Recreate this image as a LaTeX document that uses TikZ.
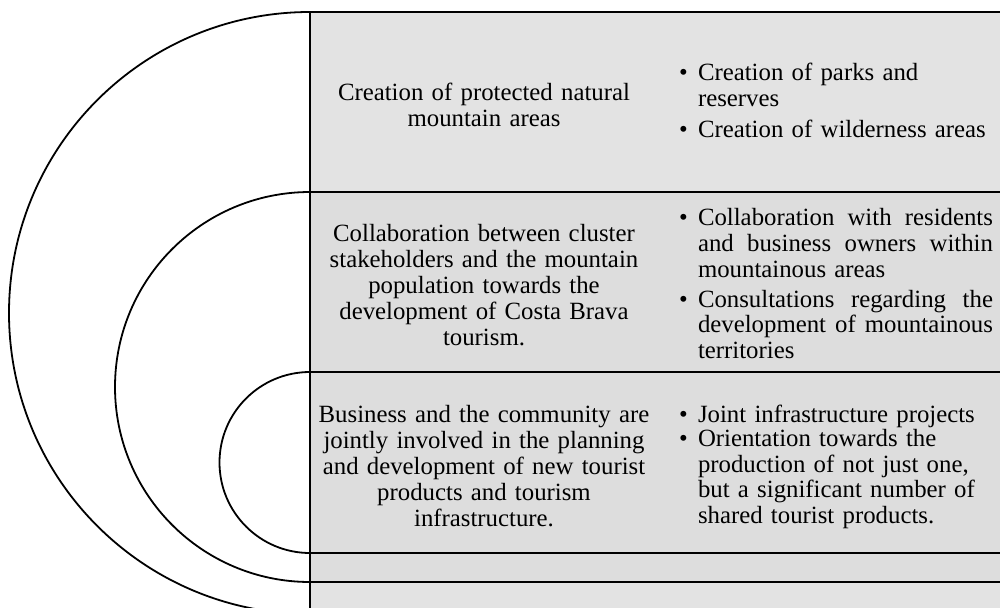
\documentclass[tikz,border=0pt]{standalone}
\usepackage{fontspec}
\setmainfont{Liberation Serif}
\definecolor{bandOuter}{HTML}{E3E3E3}
\definecolor{bandInner}{HTML}{DDDDDD}
\newcommand{\cellfont}{\fontsize{12.4pt}{12.9pt}\selectfont}
\newcommand{\bullitem}[1]{\noindent\makebox[9.5pt][l]{\textbullet}\parbox[t]{147.5pt}{\cellfont\raggedright\leavevmode\strut#1\strut}}
\newcommand{\fullline}[1]{\leavevmode\hbox to 147.5pt{\spaceskip=0.25em plus 1em minus 0.05em\relax #1}}

\begin{document}
\begin{tikzpicture}[x=0.5pt, y=0.5pt,
  bandline/.style={line width=1pt},
  ringline/.style={line width=0.9pt},
  celltext/.style={inner sep=0pt, font=\cellfont},
  lefttext/.style={celltext, text width=176pt, align=center},
  righttext/.style={celltext, text width=157pt}]

  \useasboundingbox (0,0) rectangle (1000,607);
  \clip (0,0) rectangle (1000,607);

  % Bands
  \filldraw[bandline, fill=bandOuter] (310,-40) rectangle (1040,595);
  \filldraw[bandline, fill=bandInner] (310,25) rectangle (1040,415);
  \filldraw[bandline, fill=bandInner] (310,54) rectangle (1040,235);

  % Rings
  \draw[ringline] (310,595) arc[start angle=90, end angle=270, radius=301];
  \draw[ringline] (310,415) arc[start angle=90, end angle=270, radius=195];
  \draw[ringline] (310,235) arc[start angle=90, end angle=270, radius=90.5];

  % Left column
  \node[lefttext] (protL) at (484,502) {Creation of protected natural\\mountain areas};
  \node[lefttext] (collabL) at (484,322) {Collaboration between cluster\\stakeholders and the mountain\\population towards the\\development of Costa Brava\\tourism.};
  \node[lefttext] (busL) at (484,141) {Business and the community are\\jointly involved in the planning\\and development of new tourist\\products and tourism\\infrastructure.};

  % Right column
  \node[righttext] (protR) at (836,503) {\bullitem{Creation of parks and\\reserves}\par\vspace{2pt}\bullitem{Creation of wilderness areas}};
  \node[righttext] (collabR) at (836,320) {\bullitem{\fullline{Collaboration with residents}\\\fullline{and business owners within}\\mountainous areas}\par\vspace{1pt}\bullitem{\fullline{Consultations regarding the}\\\fullline{development of mountainous}\\territories}};
  \node[righttext] (busR) at (836,139) {\bullitem{Joint infrastructure projects}\par\vspace{-1pt}\bullitem{Orientation towards the\\production of not just one,\\but a significant number of\\shared tourist products.}};

\end{tikzpicture}
\end{document}
